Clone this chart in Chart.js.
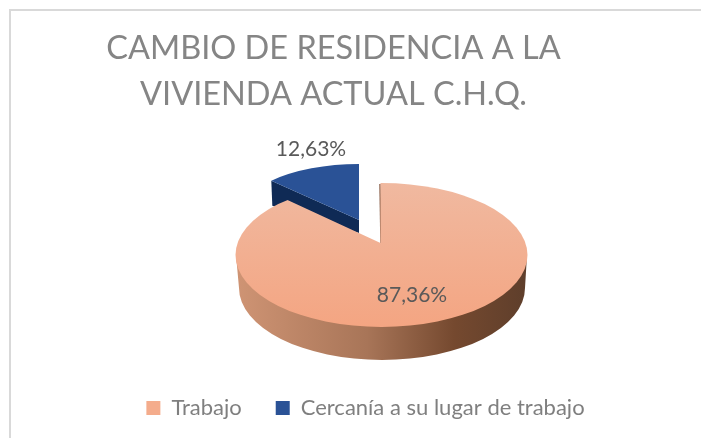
<!DOCTYPE html>
<html>
<head>
<meta charset="utf-8">
<style>
  html, body { margin: 0; padding: 0; background: #fff; }
  #box { position: absolute; left: 9px; top: 9px; width: 700px; height: 500px; border: 2px solid #D9D9D9; }
  #wrap { position: absolute; left: 0; top: 0; width: 701px; height: 438px; overflow: hidden; }
  canvas { position: absolute; left: 0; top: 0; }
</style>
<script src="https://cdn.jsdelivr.net/npm/chart.js@4"></script>
</head>
<body>
<div id="wrap">
  <div id="box"></div>
  <canvas id="chart" width="701" height="438"></canvas>
</div>
<script>
const categories = ['Trabajo', 'Cercanía a su lugar de trabajo'];
const shares = [87.36, 12.63];
const sliceColors = ['#F4AC8C', '#2A5296'];
const titleLines = ['CAMBIO DE RESIDENCIA A LA', 'VIVIENDA ACTUAL C.H.Q.'];

const FONT = 'Lato, "Open Sans", sans-serif';

// fake 3D: the library gives the wedge angles, we squash and extrude them here
const pie3d = {
  id: 'pie3d',
  afterLayout(chart) {
    // title and legend are not centred on the same axis in the reference
    chart.titleBlock.left -= 17; chart.titleBlock.right -= 17;
    chart.legend.left += 15; chart.legend.right += 15;
    chart.legend.top -= 9; chart.legend.bottom -= 9;
  },
  beforeDatasetsDraw(chart) {
    const ctx = chart.ctx;
    const [orange, blue] = chart.getDatasetMeta(0).data;
    const R = orange.outerRadius;

    // blue slice, pulled out
    const bx = 359, by = 220, bw = 123, bh = 56;
    const cx = bx + Math.cos(blue.startAngle) * bw;
    const cy = by + Math.sin(blue.startAngle) * bh;
    ctx.save();
    ctx.fillStyle = '#0F2A55';
    ctx.beginPath();
    ctx.moveTo(bx, by);
    ctx.lineTo(cx, cy);
    ctx.lineTo(cx + 1, cy + 25);
    ctx.lineTo(bx, by + 13);
    ctx.closePath();
    ctx.fill();
    ctx.restore();
    drawSquashed(ctx, blue, bx, by, bw / R, bh / R);

    // orange wall
    const wall = ctx.createLinearGradient(236, 0, 527, 0);
    wall.addColorStop(0, '#CF9474');
    wall.addColorStop(0.45, '#A87558');
    wall.addColorStop(0.75, '#75492F');
    wall.addColorStop(1, '#5E3E2B');
    ctx.save();
    ctx.fillStyle = wall;
    ctx.beginPath();
    ctx.moveTo(236, 255);
    ctx.lineTo(527, 255);
    ctx.lineTo(525, 288);
    ctx.ellipse(382, 288, 143, 72, 0, 0, Math.PI);
    ctx.closePath();
    ctx.fill();
    // thin cut face next to the gap
    ctx.strokeStyle = '#8A5F48';
    ctx.lineWidth = 1.5;
    ctx.beginPath();
    ctx.moveTo(380, 184);
    ctx.lineTo(381, 243);
    ctx.stroke();
    ctx.restore();

    // orange top: oversized wedge from the apex, clipped to the ellipse
    const tx = 300 / R, ty = 141 / R;
    ctx.save();
    ctx.beginPath();
    ctx.ellipse(381.5, 255, 146, 72, 0, 0, Math.PI * 2);
    ctx.clip();
    const g = ctx.createLinearGradient(0, orange.y - (60 / ty), 0, orange.y + (84 / ty));
    g.addColorStop(0, '#F0B9A0');
    g.addColorStop(1, '#F4A582');
    drawSquashed(ctx, orange, 380.5, 243, tx, ty, g);
    ctx.restore();

    // returning false skips the default flat pie (and afterDatasetsDraw)
    return false;
  },
  afterDraw(chart) {
    const ctx = chart.ctx;
    const text = v => v.toFixed(2).replace('.', ',') + '%';
    ctx.save();
    ctx.font = '21px ' + FONT;
    ctx.fillStyle = '#595959';
    ctx.textAlign = 'center';
    ctx.textBaseline = 'middle';
    ctx.fillText(text(shares[0]), 412, 295);
    ctx.fillText(text(shares[1]), 311, 149);
    ctx.restore();
  }
};

function drawSquashed(ctx, arc, px, py, sx, sy, fill) {
  const saved = arc.options;
  if (fill) arc.options = Object.assign({}, saved, { backgroundColor: fill });
  ctx.save();
  ctx.translate(px, py);
  ctx.scale(sx, sy);
  ctx.translate(-arc.x, -arc.y);
  arc.draw(ctx);
  ctx.restore();
  arc.options = saved;
}

new Chart(document.getElementById('chart'), {
  type: 'pie',
  data: {
    labels: categories,
    datasets: [{
      data: shares,
      backgroundColor: sliceColors,
      borderWidth: 0
    }]
  },
  options: {
    responsive: false,
    animation: false,
    plugins: {
      tooltip: { enabled: false },
      title: {
        display: true,
        text: titleLines,
        color: '#858585',
        padding: { top: 26, bottom: 10 },
        font: { family: FONT, size: 32.5, weight: '400', lineHeight: 1.415 }
      },
      legend: {
        position: 'bottom',
        labels: {
          color: '#7F7F7F',
          boxWidth: 14,
          boxHeight: 14,
          padding: 34,
          font: { family: FONT, size: 22 }
        }
      }
    }
  },
  plugins: [pie3d]
});
</script>
</body>
</html>
